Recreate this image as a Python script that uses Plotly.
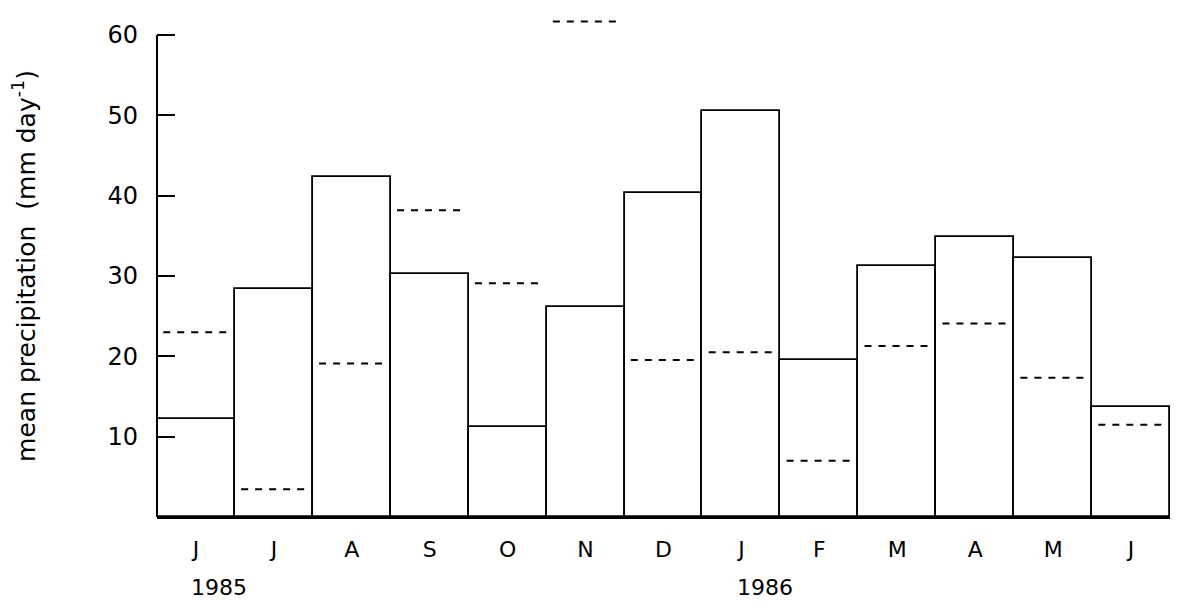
import plotly.graph_objects as go

months = ["J", "J", "A", "S", "O", "N", "D", "J", "F", "M", "A", "M", "J"]
bar_values = [12.2, 28.4, 42.3, 30.2, 11.2, 26.1, 40.4, 50.5, 19.5, 31.3, 34.8, 32.3, 13.7]
dashed_values = [23.0, 3.45, 19.1, 38.2, 29.1, 61.7, 19.55, 20.5, 7.0, 21.3, 24.1, 17.35, 11.5]
y_ticks = [10, 20, 30, 40, 50, 60]
years = ["1985", "1986"]
year_pos = [0.3, 7.3]

x_idx = list(range(len(months)))

fig = go.Figure()
fig.add_trace(go.Bar(
    x=x_idx, y=bar_values, width=1,
    marker=dict(color="white", line=dict(color="black", width=1.8)),
    showlegend=False, hoverinfo="skip",
))

dx, dy = [], []
for i, v in zip(x_idx, dashed_values):
    dx += [i - 0.42, i + 0.46, None]
    dy += [v, v, None]
fig.add_trace(go.Scatter(
    x=dx, y=dy, mode="lines",
    line=dict(color="black", width=2, dash="7px,7px"),
    showlegend=False, hoverinfo="skip", cliponaxis=False,
))

font = "DejaVu Sans"
fig.update_layout(
    width=1164, height=596,
    margin=dict(l=149, r=2, t=7, b=87),
    paper_bgcolor="white", plot_bgcolor="white",
    font=dict(family=font, color="black", size=22),
    bargap=0,
    xaxis=dict(
        range=[-0.5, 12.5], tickmode="array", tickvals=x_idx, ticktext=months,
        showgrid=False, zeroline=False, showline=True, linecolor="black", linewidth=2,
        ticks="", ticklabelstandoff=12, tickfont=dict(size=22), automargin=False,
    ),
    yaxis=dict(
        range=[0, 62.5], tickmode="array", tickvals=y_ticks,
        showgrid=False, zeroline=False, showline=False,
        ticks="inside", ticklen=18, tickwidth=1.8, tickcolor="black",
        ticklabelstandoff=18, tickfont=dict(size=24), automargin=False,
        title=dict(text="mean precipitation  (mm day<sup>-1</sup>)", font=dict(size=25), standoff=68),
    ),
    shapes=[dict(type="line", xref="paper", yref="y", x0=0, x1=0, y0=0, y1=60,
                 line=dict(color="black", width=2))],
)
for yr, xp in zip(years, year_pos):
    fig.add_annotation(x=xp, y=-0.141, xref="x", yref="paper", text=yr, showarrow=False,
                       font=dict(size=22), xanchor="center", yanchor="middle")

fig.write_html("out.html")
